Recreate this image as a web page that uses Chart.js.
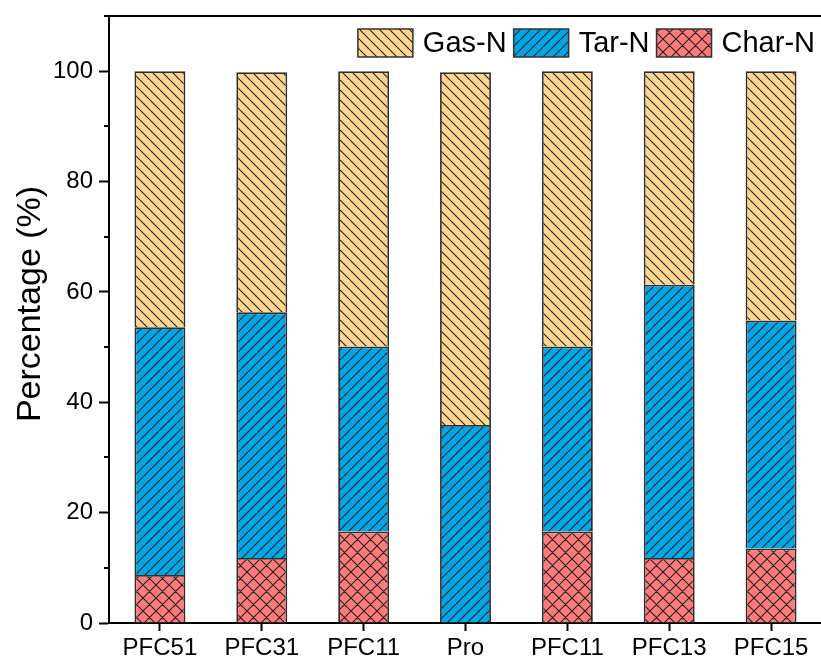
<!DOCTYPE html>
<html>
<head>
<meta charset="utf-8">
<script src="https://cdn.jsdelivr.net/npm/chart.js@4.4.0/dist/chart.umd.min.js"></script>
<style>
  html, body { margin: 0; padding: 0; background: #fff; overflow: hidden; }
  #wrap { width: 822px; height: 660px; }
  canvas { display: block; }
</style>
</head>
<body>
<div id="wrap"><canvas id="c" width="822" height="660"></canvas></div>
<script>
// ---- data ----
const categories = ['PFC51', 'PFC31', 'PFC11', 'Pro', 'PFC11', 'PFC13', 'PFC15'];
const charN = [8.7, 11.8, 16.6, 0, 16.6, 11.8, 13.5];
const tarN  = [44.9, 44.5, 33.5, 35.9, 33.5, 49.5, 41.3];
const gasN  = [46.4, 43.5, 49.9, 63.9, 49.9, 38.7, 45.2];
const yTickValues = [0, 20, 40, 60, 80, 100];
const yMinorTickValues = [10, 30, 50, 70, 90];
const seriesNames = ['Char-N', 'Tar-N', 'Gas-N'];
const yTitle = 'Percentage (%)';

// ---- patterns ----
function makePattern(bg, kind, s) {
  const c = document.createElement('canvas');
  c.width = s; c.height = s;
  const g = c.getContext('2d');
  g.fillStyle = bg; g.fillRect(0, 0, s, s);
  g.strokeStyle = '#222'; g.lineWidth = 1.1;
  g.beginPath();
  for (let k = -1; k <= 1; k++) {
    if (kind === 'back' || kind === 'cross') { g.moveTo(k * s, 0); g.lineTo(k * s + s, s); }
    if (kind === 'fwd' || kind === 'cross') { g.moveTo(k * s, s); g.lineTo(k * s + s, 0); }
  }
  g.stroke();
  return document.getElementById('c').getContext('2d').createPattern(c, 'repeat');
}
const gasPat = makePattern('#FFD590', 'back', 10);
const tarPat = makePattern('#00A6E6', 'fwd', 10);
const charPat = makePattern('#FF7B7B', 'cross', 13);

const FONT = "'Liberation Sans', Arial, sans-serif";

const extras = {
  id: 'extras',
  afterDraw(chart) {
    const ctx = chart.ctx;
    const a = chart.chartArea;
    const y = chart.scales.y;
    ctx.save();
    // top frame line
    ctx.strokeStyle = '#000'; ctx.lineWidth = 2;
    ctx.beginPath(); ctx.moveTo(a.left - 5, a.top); ctx.lineTo(a.right, a.top); ctx.stroke();
    // minor ticks
    ctx.beginPath();
    yMinorTickValues.forEach(v => {
      const py = Math.round(y.getPixelForValue(v));
      ctx.moveTo(a.left - 5, py); ctx.lineTo(a.left, py);
    });
    ctx.stroke();
    // y-axis title
    ctx.save();
    ctx.translate(31, 304);
    ctx.rotate(-Math.PI / 2);
    ctx.font = '34px ' + FONT;
    ctx.fillStyle = '#000';
    ctx.textAlign = 'center';
    ctx.textBaseline = 'middle';
    ctx.fillText(yTitle, 0, 0);
    ctx.restore();
    // legend (Gas, Tar, Char)
    const order = [2, 1, 0];
    ctx.font = '29px ' + FONT;
    ctx.textBaseline = 'middle';
    const boxW = 55, boxH = 28, gapText = 10, gapItem = 7;
    let total = 0;
    order.forEach((di, i) => {
      total += boxW + gapText + ctx.measureText(chart.data.datasets[di].label).width;
      if (i < order.length - 1) total += gapItem;
    });
    let x = 815 - total;
    const top = 29;
    order.forEach(di => {
      const ds = chart.data.datasets[di];
      ctx.fillStyle = ds.backgroundColor;
      ctx.fillRect(x, top, boxW, boxH);
      ctx.strokeStyle = '#333'; ctx.lineWidth = 1.5;
      ctx.strokeRect(x, top, boxW, boxH);
      ctx.fillStyle = '#000';
      ctx.fillText(ds.label, x + boxW + gapText, top + boxH / 2 + 1);
      x += boxW + gapText + ctx.measureText(ds.label).width + gapItem;
    });
    ctx.restore();
  }
};

new Chart(document.getElementById('c'), {
  type: 'bar',
  data: {
    labels: categories,
    datasets: [
      { label: seriesNames[0], data: charN, backgroundColor: charPat },
      { label: seriesNames[1], data: tarN, backgroundColor: tarPat },
      { label: seriesNames[2], data: gasN, backgroundColor: gasPat }
    ]
  },
  options: {
    responsive: false,
    animation: false,
    devicePixelRatio: 1,
    layout: { padding: { top: 16, right: 0, left: 0, bottom: 0 } },
    datasets: {
      bar: {
        borderColor: '#2e2e2e',
        borderWidth: 1.8,
        borderSkipped: 'start',
        barPercentage: 0.5,
        categoryPercentage: 1.0
      }
    },
    plugins: {
      legend: { display: false },
      tooltip: { enabled: false }
    },
    scales: {
      x: {
        stacked: true,
        offset: true,
        grid: { drawOnChartArea: false, offset: false, tickLength: 8, tickWidth: 2, tickColor: '#000' },
        border: { display: true, color: '#000', width: 2 },
        ticks: { color: '#000', font: { family: FONT, size: 24 }, padding: 3, maxRotation: 0 },
        afterFit(s) { s.height = 37; s.paddingLeft = 0; s.paddingRight = 0; }
      },
      y: {
        stacked: true,
        min: 0,
        max: 110,
        afterBuildTicks(s) { s.ticks = yTickValues.map(v => ({ value: v })); },
        grid: { drawOnChartArea: false, tickLength: 10, tickWidth: 2, tickColor: '#000' },
        border: { display: true, color: '#000', width: 2 },
        ticks: { color: '#000', font: { family: FONT, size: 24 }, padding: 6 },
        afterFit(s) { s.width = 109; s.paddingTop = 0; s.paddingBottom = 0; }
      }
    }
  },
  plugins: [extras]
});
</script>
</body>
</html>
